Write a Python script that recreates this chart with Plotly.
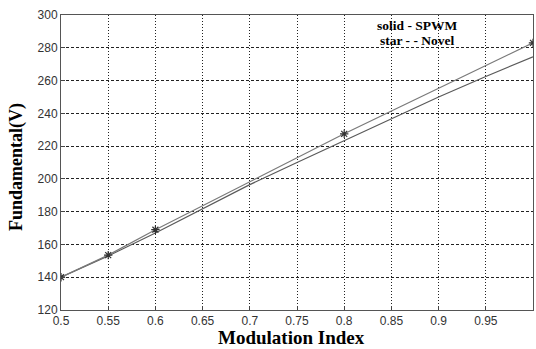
import plotly.graph_objects as go

# Modulation index vs fundamental output voltage
m_spwm = [0.5, 0.55, 0.6, 0.65, 0.7, 0.75, 0.8, 0.85, 0.9, 0.95, 1.0]
v_spwm = [140, 153, 167, 182, 196.5, 210, 223.5, 237, 250, 262.5, 274.5]

m_novel = [0.5, 0.55, 0.6, 0.8, 1.0]
v_novel = [140, 153.5, 169, 227.5, 283]

x_ticks = [0.5, 0.55, 0.6, 0.65, 0.7, 0.75, 0.8, 0.85, 0.9, 0.95, 1.0]
x_tick_text = ["0.5", "0.55", "0.6", "0.65", "0.7", "0.75", "0.8", "0.85", "0.9", "0.95", "1"]
y_ticks = [120, 140, 160, 180, 200, 220, 240, 260, 280, 300]

L, R, T, B = 61, 3, 15, 39
W, H = 536, 349

fig = go.Figure()
fig.add_trace(go.Scatter(
    x=m_spwm, y=v_spwm, mode="lines", name="SPWM",
    line=dict(color="#5a5a5a", width=1.2),
))
fig.add_trace(go.Scatter(
    x=m_novel, y=v_novel, mode="lines+markers", name="Novel",
    line=dict(color="#7a7a7a", width=1.2),
    marker=dict(symbol="asterisk-open", size=7, color="#333333",
                line=dict(color="#333333", width=1.2)),
))

tick_font = dict(family="Liberation Sans, Arial, sans-serif", size=12, color="#333333")
serif = "Liberation Serif, Times New Roman, serif"
note_font = dict(family=serif, size=13.5, color="#000")

fig.update_layout(
    width=W, height=H,
    margin=dict(l=L, r=R, t=T, b=B),
    paper_bgcolor="white", plot_bgcolor="white",
    showlegend=False,
    xaxis=dict(
        range=[0.5, 1.0], tickvals=x_ticks, ticktext=x_tick_text,
        tickfont=tick_font, ticks="inside", ticklen=4, tickcolor="#444444",
        showline=True, linecolor="#555555", linewidth=1, mirror=True,
        showgrid=True, gridcolor="#222222", gridwidth=1, griddash="1px,2px",
        zeroline=False,
    ),
    yaxis=dict(
        range=[120, 300], tickvals=y_ticks,
        tickfont=tick_font, ticks="inside", ticklen=4, tickcolor="#444444",
        showline=True, linecolor="#555555", linewidth=1, mirror=True,
        showgrid=True, gridcolor="#222222", gridwidth=1, griddash="3px,2px",
        zeroline=False,
    ),
)

plot_w = W - L - R
plot_h = H - T - B


def px_to_paper(px, py):
    return (px - L) / plot_w, 1 - (py - T) / plot_h


# Axis titles placed in pixels
ax, ay = px_to_paper(291, 350)
fig.add_annotation(x=ax, y=ay, xref="paper", yref="paper", text="<b>Modulation Index</b>",
                   showarrow=False, xanchor="center", yanchor="bottom",
                   font=dict(family=serif, size=19, color="#000"))
ax, ay = px_to_paper(16, 167)
fig.add_annotation(x=ax, y=ay, xref="paper", yref="paper", text="<b>Fundamental(V)</b>",
                   showarrow=False, xanchor="center", yanchor="middle", textangle=-90,
                   font=dict(family=serif, size=18, color="#000"))

# Legend note
for txt, px, py in [("<b>solid - SPWM</b>", 417, 25), ("<b>star - - Novel</b>", 417, 40)]:
    ax, ay = px_to_paper(px, py)
    fig.add_annotation(x=ax, y=ay, xref="paper", yref="paper", text=txt, showarrow=False,
                       xanchor="center", yanchor="middle", font=note_font)

fig.write_html("out.html")
